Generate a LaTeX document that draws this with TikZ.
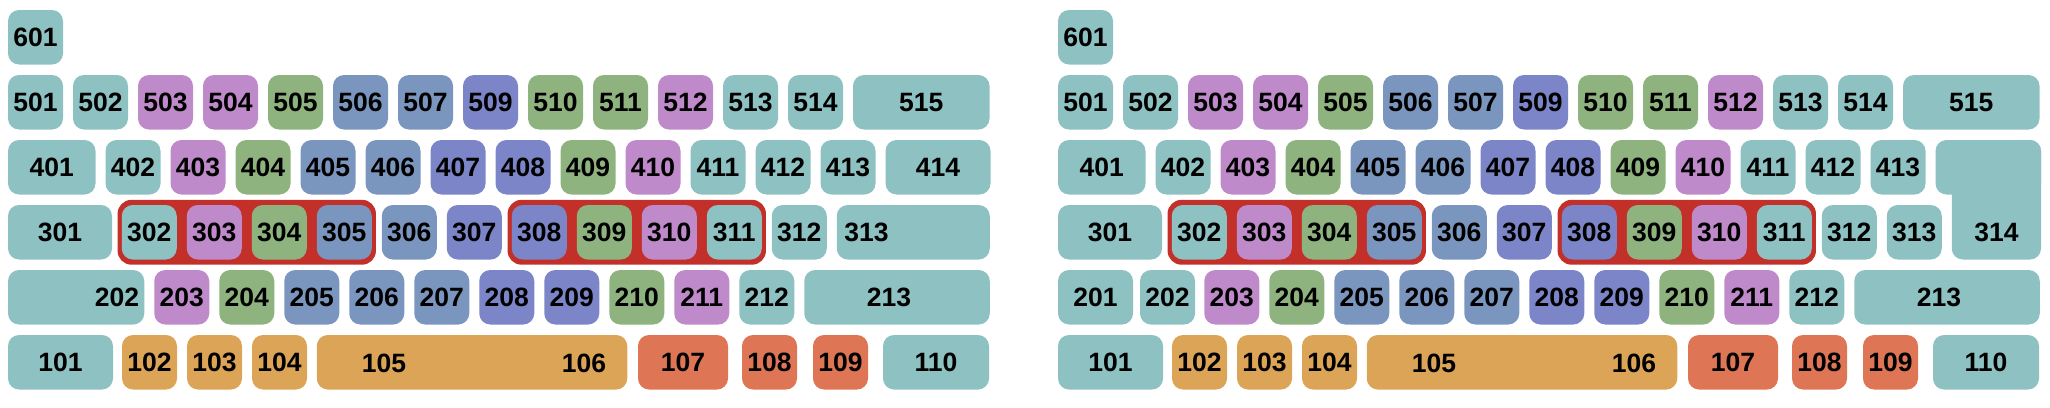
\documentclass[tikz,border=0pt]{standalone}
\usepackage{fontspec}
\setmainfont{Liberation Sans}
\usetikzlibrary{fit,backgrounds}
\definecolor{kT}{HTML}{8EC1C2}
\definecolor{kP}{HTML}{BF8ACA}
\definecolor{kG}{HTML}{8EB37F}
\definecolor{kS}{HTML}{7B96BE}
\definecolor{kV}{HTML}{7B85C8}
\definecolor{kO}{HTML}{DCA456}
\definecolor{kR}{HTML}{DE7656}
\definecolor{kF}{HTML}{C3302A}
\tikzset{
  keyb/.style={rounded corners=11pt, inner sep=0pt, minimum height=54.5pt,
    font=\fontsize{26.5}{30}\selectfont\bfseries, text=black},
  keytext/.style={inner sep=0pt, font=\fontsize{26.5}{30}\selectfont\bfseries, text=black},
  groupframe/.style={fill=kF, rounded corners=14pt, inner xsep=4pt, inner ysep=5pt}
}
% name, left x, top y, width, colour, label
\newcommand{\kb}[6]{\node[keyb, fill=#5, minimum width=#4pt] (#1) at ({#2+0.5*#4},{#3+27.25}) {#6};}
% prefix, offset, start x, top y, list
\newcommand{\rowkeys}[5]{\foreach \n/\c [count=\i from 0] in {#5} {\kb{#1\n}{#2+#3+65*\i}{#4}{55}{\c}{\n}}}
\newcommand{\commonkeys}[2]{%
  \kb{#1601}{#2+8}{10}{55}{kT}{601}
  \rowkeys{#1}{#2}{8}{75}{501/kT,502/kT,503/kP,504/kP,505/kG,506/kS,507/kS,509/kV,510/kG,511/kG,512/kP,513/kT,514/kT}
  \kb{#1515}{#2+853}{75}{136.5}{kT}{515}
  \kb{#1401}{#2+8}{140}{87.5}{kT}{401}
  \rowkeys{#1}{#2}{105.5}{140}{402/kT,403/kP,404/kG,405/kS,406/kS,407/kV,408/kV,409/kG,410/kP,411/kT,412/kT,413/kT}
  \kb{#1301}{#2+8}{205}{104}{kT}{301}
  \rowkeys{#1}{#2}{121.75}{205}{302/kT,303/kP,304/kG,305/kS,306/kS,307/kV,308/kV,309/kG,310/kP,311/kT,312/kT}
  \rowkeys{#1}{#2}{154.25}{270}{203/kP,204/kG,205/kS,206/kS,207/kS,208/kV,209/kV,210/kG,211/kP,212/kT}
  \kb{#1213k}{#2+804.25}{270}{185.5}{kT}{}
  \node[keytext] (#1213) at ({#2+889},297.25) {213};
  \kb{#1101}{#2+8}{335}{105}{kT}{101}
  \kb{#1102}{#2+122}{335}{55}{kO}{102}
  \kb{#1103}{#2+187}{335}{55}{kO}{103}
  \kb{#1104}{#2+252}{335}{55}{kO}{104}
  \kb{#1105k}{#2+316.75}{335}{310.5}{kO}{}
  \node[keytext] (#1105) at ({#2+384},363) {105};
  \node[keytext] (#1106) at ({#2+584},363) {106};
  \kb{#1107}{#2+638}{335}{90}{kR}{107}
  \kb{#1108}{#2+742}{335}{55}{kR}{108}
  \kb{#1109}{#2+813}{335}{55}{kR}{109}
  \kb{#1110}{#2+883}{335}{106}{kT}{110}
  \begin{scope}[on background layer]
    \node[groupframe, fit=(#1302)(#1305)] (#1fa) {};
    \node[groupframe, fit=(#1308)(#1311)] (#1fb) {};
  \end{scope}
}
\begin{document}
\begin{tikzpicture}[x=1pt,y=-1pt]
\useasboundingbox (0,0) rectangle (2050,407);
% left board
\commonkeys{L}{0}
\kb{L414}{885.5}{140}{105}{kT}{414}
\kb{L313k}{836.75}{205}{153}{kT}{}
\node[keytext] (L313) at (866.5,232.25) {313};
\kb{L202k}{8}{270}{136.25}{kT}{}
\node[keytext] (L202) at (117,297.25) {202};
% right board
\commonkeys{R}{1050}
\kb{R313}{1050+836.75}{205}{55}{kT}{313}
\kb{R314a}{1050+885.5}{140}{105.5}{kT}{}
\node[keyb, fill=kT, minimum width=89.25pt, minimum height=119.5pt] (R314b) at ({1050+901.75+44.625},{140+59.75}) {};
\node[keytext] (R314) at ({1050+901.75+44.625},232.25) {314};
\kb{R201}{1050+8}{270}{75}{kT}{201}
\kb{R202}{1050+90}{270}{55}{kT}{202}
\end{tikzpicture}
\end{document}
